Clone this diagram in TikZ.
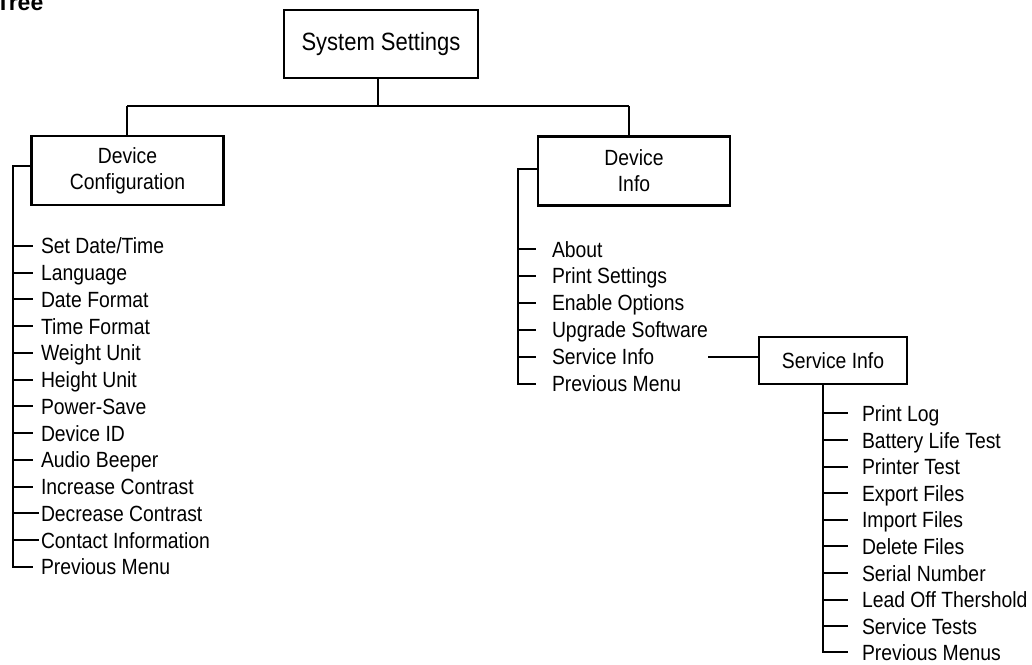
\documentclass[tikz,border=0pt]{standalone}
\usepackage{fontspec}
\setmainfont{Liberation Sans}[FakeStretch=0.88]
\newfontfamily\headfont{Liberation Sans}
\usetikzlibrary{positioning}

\tikzset{
  menubox/.style={draw, line width=2.2pt, align=center, inner sep=0pt,
    font=\fontsize{22}{26}\selectfont},
  entry/.style={anchor=west, inner ysep=0pt, text height=16pt, text depth=0pt,
    font=\fontsize{22}{26}\selectfont}
}

\begin{document}
\begin{tikzpicture}[x=1pt, y=-1pt, line width=2pt]
  \useasboundingbox (0,0) rectangle (1032,664);
  % heading, cut at the page edge
  \node[anchor=base west, inner sep=0pt, font=\headfont\bfseries\fontsize{23}{26}\selectfont] (title) at (-5,10) {Tree};
  % boxes
  \node[menubox, minimum width=194pt, minimum height=68pt, font=\fontsize{25}{28}\selectfont] (sys) at (381,44) {System Settings};
  \node[menubox, minimum width=192pt, minimum height=69pt] (cfg) at (127.5,170.5) {Device\\Configuration};
  \node[menubox, minimum width=192pt, minimum height=69pt] (info) at (634,171) {Device\\Info};
  \node[menubox, minimum width=148pt, minimum height=47pt] (srv) at (833,360.5) {Service Info};
  % bus
  \coordinate (busL) at (127,106);
  \coordinate (busR) at (629,106);
  \draw (sys.south -| 378,0) -- (378,106);
  \draw (busL) -- (busR);
  \draw (busL) -- (busL |- cfg.north);
  \draw (busR) -- (busR |- info.north);

  % Device Configuration items
  \coordinate (cfgspine) at (13,166);
  \node[entry, inner xsep=7pt] (c1) at (33,245.7) {Set Date/Time};
  \node[entry, inner xsep=7pt] (c2) at (33,272.5) {Language};
  \node[entry, inner xsep=7pt] (c3) at (33,299.2) {Date Format};
  \node[entry, inner xsep=7pt] (c4) at (33,326) {Time Format};
  \node[entry, inner xsep=7pt] (c5) at (33,352.7) {Weight Unit};
  \node[entry, inner xsep=7pt] (c6) at (33,379.5) {Height Unit};
  \node[entry, inner xsep=7pt] (c7) at (33,406.2) {Power-Save};
  \node[entry, inner xsep=7pt] (c8) at (33,433) {Device ID};
  \node[entry, inner xsep=7pt] (c9) at (33,459.7) {Audio Beeper};
  \node[entry, inner xsep=7pt] (c10) at (33,486.5) {Increase Contrast};
  \node[entry, inner xsep=1pt] (c11) at (39,513.2) {Decrease Contrast};
  \node[entry, inner xsep=1pt] (c12) at (39,540) {Contact Information};
  \node[entry, inner xsep=7pt] (c13) at (33,566.7) {Previous Menu};
  \draw (cfgspine -| cfg.west) -- (cfgspine) -- (cfgspine |- c13.west) -- (c13.west);
  \foreach \i in {1,...,12}
    \draw (cfgspine |- c\i.west) -- (c\i.west);

  % Device Info items
  \coordinate (infospine) at (518,169);
  \node[entry, inner xsep=15pt] (d1) at (536,249) {About};
  \node[entry, inner xsep=15pt] (d2) at (536,275.9) {Print Settings};
  \node[entry, inner xsep=15pt] (d3) at (536,302.8) {Enable Options};
  \node[entry, inner xsep=15pt] (d4) at (536,329.7) {Upgrade Software};
  \node[entry, inner xsep=15pt] (d5) at (536,356.6) {Service Info};
  \node[entry, inner xsep=15pt] (d6) at (536,383.5) {Previous Menu};
  \draw (infospine -| info.west) -- (infospine) -- (infospine |- d6.west) -- (d6.west);
  \foreach \i in {1,...,5}
    \draw (infospine |- d\i.west) -- (d\i.west);
  % link to the Service Info box
  \coordinate (srvin) at (708,356.6);
  \draw (srvin) -- (srvin -| srv.west);

  % Service Info items
  \coordinate (srvspine) at (823,0);
  \node[entry, inner xsep=13pt] (s1) at (848,413) {Print Log};
  \node[entry, inner xsep=13pt] (s2) at (848,440) {Battery Life Test};
  \node[entry, inner xsep=13pt] (s3) at (848,466.6) {Printer Test};
  \node[entry, inner xsep=13pt] (s4) at (848,493.2) {Export Files};
  \node[entry, inner xsep=13pt] (s5) at (848,519.8) {Import Files};
  \node[entry, inner xsep=13pt] (s6) at (848,546.4) {Delete Files};
  \node[entry, inner xsep=13pt] (s7) at (848,573) {Serial Number};
  \node[entry, inner xsep=13pt] (s8) at (848,599.6) {Lead Off Thershold};
  \node[entry, inner xsep=13pt] (s9) at (848,626.2) {Service Tests};
  \node[entry, inner xsep=13pt] (s10) at (848,652) {Previous Menus};
  \draw[line width=1.4pt] (srvspine |- srv.south) -- (srvspine |- s10.west) -- (s10.west);
  \foreach \i in {1,...,9}
    \draw (srvspine |- s\i.west) -- (s\i.west);
\end{tikzpicture}
\end{document}
